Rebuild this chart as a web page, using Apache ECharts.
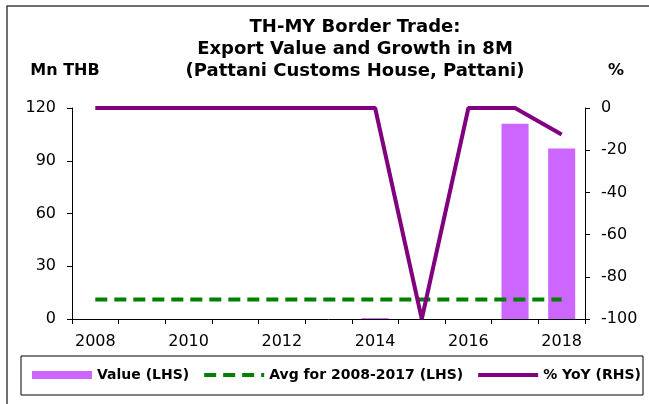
<!DOCTYPE html>
<html>
<head>
<meta charset="utf-8">
<script src="https://cdn.jsdelivr.net/npm/echarts@6/dist/echarts.min.js"></script>
<style>
  html, body { margin: 0; padding: 0; background: #ffffff; }
  #chart { width: 649px; height: 404px; }
</style>
</head>
<body>
<div id="chart"></div>
<script>
// Pattani Customs House: export value (Mn THB) and year-on-year growth (%), Jan-Aug
const years = ['2008', '2009', '2010', '2011', '2012', '2013', '2014', '2015', '2016', '2017', '2018'];
const exportValue = [0, 0, 0, 0, 0, 0, 0.5, 0, 0, 111, 97];
const yoyGrowth = [0, 0, 0, 0, 0, 0, 0, -100, 0, 0, -12.6];
const avgValue2008to2017 = 11.1;
const leftTicks = { min: 0, max: 120, step: 30 };
const rightTicks = { min: -100, max: 0, step: 20 };

const FONT = 'DejaVu Sans';
const avgLine = years.map(() => avgValue2008to2017);

const chart = echarts.init(document.getElementById('chart'), null, { renderer: 'canvas' });

const axisCommon = {
  axisLine: { show: true, lineStyle: { color: '#000', width: 1 } },
  axisTick: { show: true, length: 5, lineStyle: { color: '#000' } },
  splitLine: { show: false },
  axisLabel: { color: '#000', fontFamily: FONT, fontSize: 16 }
};

chart.setOption({
  animation: false,
  backgroundColor: '#fff',
  title: {
    text: 'TH-MY Border Trade:\nExport Value and Growth in 8M\n(Pattani Customs House, Pattani)',
    left: 355,
    top: 16,
    textAlign: 'center',
    padding: 0,
    textStyle: { fontFamily: FONT, fontSize: 18, fontWeight: 'bold', color: '#000', lineHeight: 22 }
  },
  graphic: [
    { type: 'rect', shape: { x: 7, y: 6, width: 700, height: 500 }, style: { fill: 'none', stroke: '#404040', lineWidth: 1.5 }, silent: true },
    { type: 'rect', shape: { x: 21, y: 356, width: 622, height: 39 }, style: { fill: 'none', stroke: '#000', lineWidth: 1 }, silent: true }
  ],
  legend: {
    left: 32,
    top: 368,
    itemWidth: 60,
    itemHeight: 8,
    itemGap: 13,
    padding: 0,
    textStyle: { fontFamily: FONT, fontSize: 14, fontWeight: 'bold', color: '#000' },
    data: [
      { name: 'Value (LHS)', icon: 'rect' },
      { name: 'Avg for 2008-2017 (LHS)', itemStyle: { opacity: 0 }, lineStyle: { width: 4 } },
      { name: '% YoY (RHS)', itemStyle: { opacity: 0 }, lineStyle: { width: 4 } }
    ]
  },
  grid: { left: 72, right: 64, top: 108, bottom: 85, containLabel: false },
  xAxis: {
    type: 'category',
    data: years,
    boundaryGap: true,
    ...axisCommon,
    axisTick: { show: true, length: 5, interval: 0, alignWithLabel: false, lineStyle: { color: '#000' } },
    axisLabel: { color: '#000', fontFamily: FONT, fontSize: 16, interval: 1, margin: 15 }
  },
  yAxis: [
    {
      type: 'value',
      min: leftTicks.min, max: leftTicks.max, interval: leftTicks.step,
      name: 'Mn THB',
      nameLocation: 'end',
      nameGap: 29,
      nameTextStyle: { fontFamily: FONT, fontSize: 16, fontWeight: 'bold', color: '#000', padding: [0, 14, 0, 0] },
      ...axisCommon,
      axisLabel: { color: '#000', fontFamily: FONT, fontSize: 16, margin: 16 }
    },
    {
      type: 'value',
      position: 'right',
      min: rightTicks.min, max: rightTicks.max, interval: rightTicks.step,
      name: '%',
      nameLocation: 'end',
      nameGap: 29,
      nameTextStyle: { fontFamily: FONT, fontSize: 16, fontWeight: 'bold', color: '#000', padding: [0, 0, 0, 62] },
      ...axisCommon,
      axisLabel: { color: '#000', fontFamily: FONT, fontSize: 16, margin: 16 }
    }
  ],
  series: [
    {
      name: 'Value (LHS)',
      type: 'bar',
      yAxisIndex: 0,
      data: exportValue,
      barCategoryGap: '42%',
      itemStyle: { color: '#CC66FF' },
      z: 1
    },
    {
      name: 'Avg for 2008-2017 (LHS)',
      type: 'line',
      yAxisIndex: 0,
      data: avgLine,
      symbol: 'none',
      lineStyle: { color: '#008000', width: 4, type: [12, 7] },
      itemStyle: { color: '#008000' },
      z: 3
    },
    {
      name: '% YoY (RHS)',
      type: 'line',
      yAxisIndex: 1,
      data: yoyGrowth,
      symbol: 'none',
      clip: false,
      lineStyle: { color: '#800080', width: 4 },
      itemStyle: { color: '#800080' },
      z: 4
    }
  ]
});
</script>
</body>
</html>
